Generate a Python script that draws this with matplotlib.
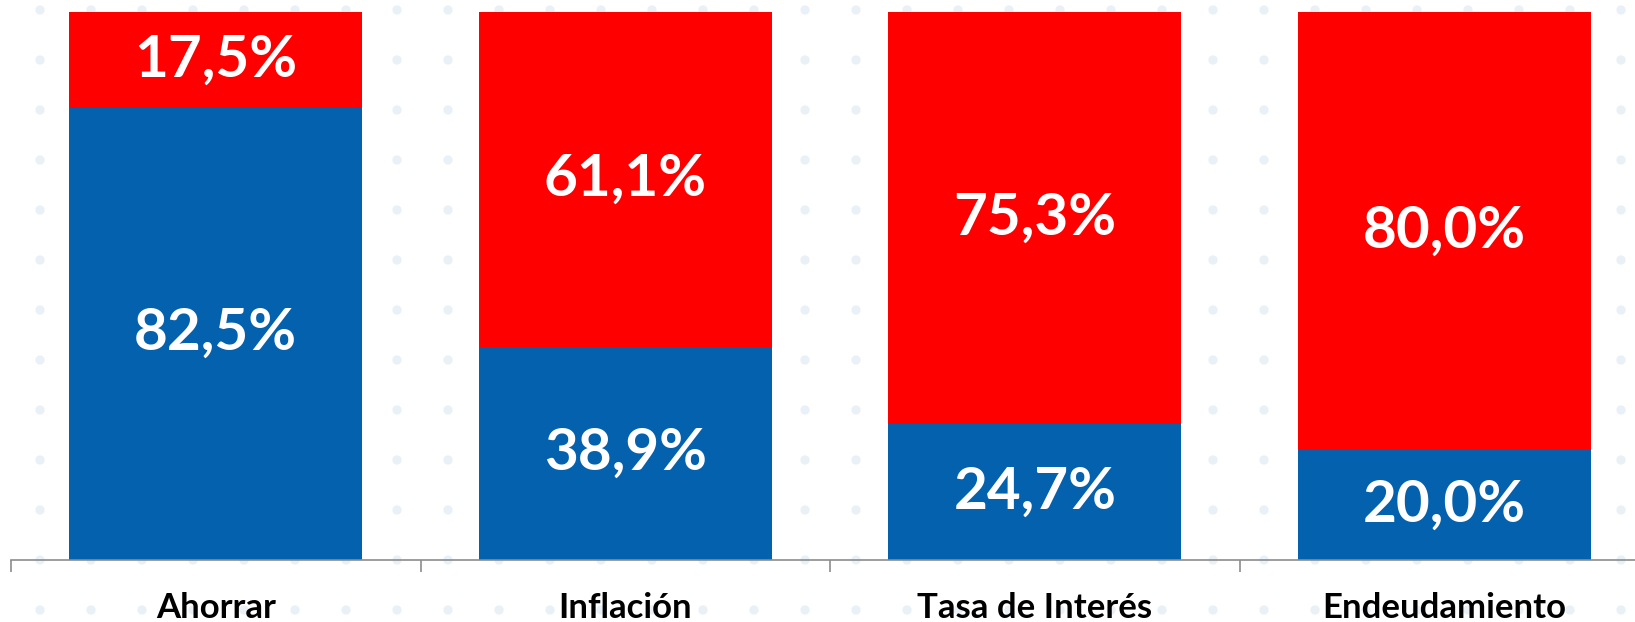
import numpy as np
import matplotlib
matplotlib.use("Agg")
import matplotlib.pyplot as plt
from matplotlib.transforms import blended_transform_factory

# --- Data ------------------------------------------------------------------
categories = ["Ahorrar", "Inflación", "Tasa de Interés", "Endeudamiento"]
blue_vals = [82.5, 38.9, 24.7, 20.0]
red_vals = [17.5, 61.1, 75.3, 80.0]
blue_labels = ["82,5%", "38,9%", "24,7%", "20,0%"]
red_labels = ["17,5%", "61,1%", "75,3%", "80,0%"]

BLUE = "#0361AD"
RED = "#FF0000"
W, H = 1635, 622

plt.rcParams["font.family"] = ["Lato", "DejaVu Sans"]

fig = plt.figure(figsize=(W / 100, H / 100), dpi=100)

# faint dotted watermark in the background
bg = fig.add_axes([0, 0, 1, 1], zorder=0)
bg.set_xlim(0, W)
bg.set_ylim(H, 0)
bg.axis("off")
gx, gy = np.meshgrid(np.arange(40, W, 51), np.arange(10, H, 50))
bg.scatter(gx.ravel(), gy.ravel(), s=45, color="#e9f1f7", edgecolor="none")

# main axes: runs slightly past the right edge like the original
left, right = 11 / W, 1649 / W
bottom, top = 1 - 559.5 / H, 1 - 12 / H
ax = fig.add_axes([left, bottom, right - left, top - bottom], zorder=1)
ax.patch.set_alpha(0)

x = np.arange(len(categories))
bw = 0.715
ax.bar(x, blue_vals, width=bw, color=BLUE)
ax.bar(x, red_vals, width=bw, bottom=blue_vals, color=RED)

for i in x:
    ax.text(i, blue_vals[i] / 2, blue_labels[i], ha="center", va="center",
            color="white", fontsize=42, fontweight="bold")
    ax.text(i, blue_vals[i] + red_vals[i] / 2, red_labels[i], ha="center",
            va="center", color="white", fontsize=42, fontweight="bold")

ax.set_xlim(-0.5, len(categories) - 0.5)
ax.set_ylim(0, 100)
ax.set_yticks([])
for s in ["top", "right", "left"]:
    ax.spines[s].set_visible(False)
ax.spines["bottom"].set_color("#8c8c8c")
ax.spines["bottom"].set_linewidth(1.2)

# tick marks at category boundaries
ax.set_xticks(np.arange(len(categories) + 1) - 0.5)
ax.set_xticklabels([])
ax.tick_params(axis="x", direction="out", length=8.5, width=1.2, color="#8c8c8c")

# category names sit right at the bottom edge of the figure
trans = blended_transform_factory(ax.transData, fig.transFigure)
for i, name in zip(x, categories):
    ax.text(i, 4 / H, name, transform=trans, ha="center", va="baseline",
            fontsize=25, fontweight="bold", color="black")

fig.savefig("out.png", dpi=100)
